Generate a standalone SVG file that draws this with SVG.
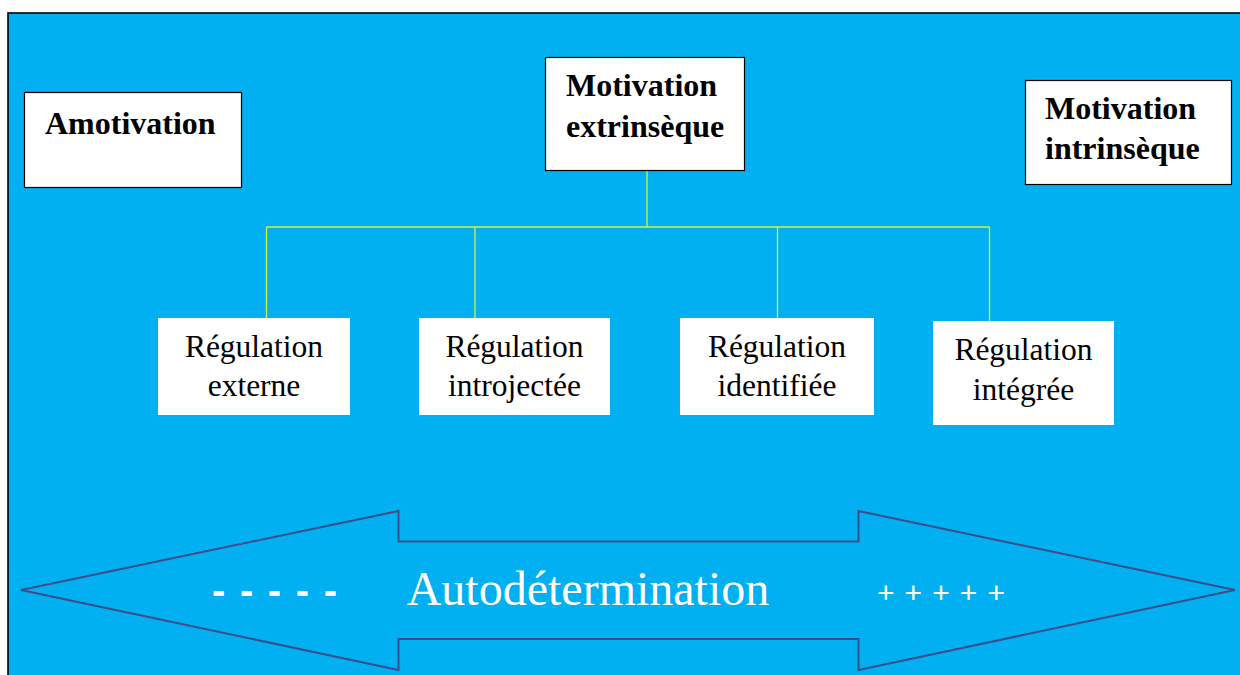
<svg xmlns="http://www.w3.org/2000/svg" width="1240" height="675" viewBox="0 0 1240 675">
<style>
.box{fill:#ffffff;stroke:#000000;stroke-width:1.2}
.plain{fill:#ffffff;stroke:none}
.bt{font-family:"Liberation Serif","Times New Roman",serif;font-weight:bold;font-size:32px;fill:#000000}
.rt{font-family:"Liberation Serif","Times New Roman",serif;font-size:31.5px;fill:#000000;text-anchor:middle}
.conn{stroke:#D4F23C;stroke-width:1.3;fill:none}
</style>
<rect x="0" y="0" width="1240" height="675" fill="#ffffff"/>
<rect x="8" y="13" width="1240" height="670" fill="#00B0F0" stroke="#000000" stroke-width="1.6"/>
<g id="connectors">
<path class="conn" d="M647,170 V227 M266.5,227 H989.5 M266.5,227 V318 M475,227 V318 M777.5,227 V318 M989.5,227 V321"/>
</g>
<g id="amotivation">
<rect class="box" x="24.5" y="92.5" width="217" height="95"/>
<text class="bt" x="45" y="134">Amotivation</text>
</g>
<g id="extrinseque">
<rect class="box" x="545.5" y="57.5" width="199" height="113"/>
<text class="bt" x="566" y="96">Motivation</text>
<text class="bt" x="566" y="137">extrinsèque</text>
</g>
<g id="intrinseque">
<rect class="box" x="1025.5" y="80.5" width="206" height="104"/>
<text class="bt" x="1045" y="119">Motivation</text>
<text class="bt" x="1045" y="159">intrinsèque</text>
</g>
<g id="externe">
<rect class="plain" x="158" y="318" width="192" height="97"/>
<text class="rt" x="254" y="357">Régulation</text>
<text class="rt" x="254" y="396">externe</text>
</g>
<g id="introjectee">
<rect class="plain" x="419" y="318" width="191" height="97"/>
<text class="rt" x="514.5" y="357">Régulation</text>
<text class="rt" x="514.5" y="396">introjectée</text>
</g>
<g id="identifiee">
<rect class="plain" x="680" y="318" width="194" height="97"/>
<text class="rt" x="777" y="357">Régulation</text>
<text class="rt" x="777" y="396">identifiée</text>
</g>
<g id="integree">
<rect class="plain" x="933" y="321" width="181" height="104"/>
<text class="rt" x="1023.5" y="360">Régulation</text>
<text class="rt" x="1023.5" y="400">intégrée</text>
</g>
<g id="autodetermination">
<polygon points="21,590 398.5,511 398.5,541.5 858.5,541.5 858.5,511 1235,590 858.5,670 858.5,639 398.5,639 398.5,670" fill="none" stroke="#3B4E8C" stroke-width="2"/>
<text x="212" y="604" font-family="'Liberation Sans',Arial,sans-serif" font-weight="bold" font-size="40" fill="#ffffff" textLength="125" lengthAdjust="spacing">- - - - -</text>
<text x="588" y="605" font-family="'Liberation Serif','Times New Roman',serif" font-size="48" fill="#ffffff" text-anchor="middle">Autodétermination</text>
<text x="877" y="603" font-family="'Liberation Sans',Arial,sans-serif" font-size="30" fill="#ffffff" textLength="128" lengthAdjust="spacing">+ + + + +</text>
</g>
</svg>
